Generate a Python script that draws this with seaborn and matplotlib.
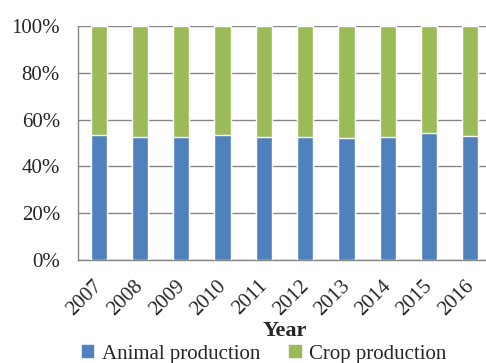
import matplotlib
matplotlib.use("Agg")
import matplotlib.pyplot as plt
import matplotlib.transforms as mtransforms
from matplotlib.patches import Patch
import numpy as np
import pandas as pd
import seaborn as sns

years = ["2007", "2008", "2009", "2010", "2011", "2012", "2013", "2014", "2015", "2016"]
animal = [53.4, 52.6, 52.6, 53.4, 52.6, 52.6, 52.1, 52.6, 54.3, 53.0]
crop = [100 - a for a in animal]

df = pd.DataFrame({"year": years, "animal": animal, "crop": crop})
df["total"] = df["animal"] + df["crop"]

blue = "#4F81BD"
green = "#9BBB59"
grid_c = "#868686"

sns.set_style("white")
plt.rcParams["font.family"] = ["Liberation Serif", "DejaVu Serif"]

fig = plt.figure(figsize=(4.86, 3.63), dpi=100)
ax = fig.add_axes([78 / 486, 103 / 363, 413 / 486, 234 / 363])

sns.barplot(data=df, x="year", y="total", color=green, width=0.39, ax=ax,
            saturation=1, zorder=3)
sns.barplot(data=df, x="year", y="animal", color=blue, width=0.39, ax=ax,
            saturation=1, zorder=4)

ax.set_ylim(0, 100)
ax.set_xlim(-0.5, len(years) - 0.5)
ax.set_yticks(np.arange(0, 101, 20))
ax.set_yticklabels([f"{v}%" for v in range(0, 101, 20)], fontsize=15)
ax.yaxis.grid(True, color=grid_c, linewidth=1.0, zorder=0)
ax.set_axisbelow(True)
ax.tick_params(axis="y", length=8, color=grid_c, width=1.0, pad=5)

# category boundary ticks on x axis
ax.set_xticks(np.arange(len(years)))
ax.set_xticklabels(years, rotation=45, ha="right", rotation_mode="anchor", fontsize=15)
ax.tick_params(axis="x", length=0, pad=6)
ax.set_xticks(np.arange(-0.5, len(years), 1), minor=True)
ax.tick_params(axis="x", which="minor", length=7, color=grid_c, width=1.0)
shift = mtransforms.ScaledTranslation(-6 / 100, -8 / 100, fig.dpi_scale_trans)
for lab in ax.get_xticklabels():
    lab.set_transform(lab.get_transform() + shift)

for s in ["top", "right"]:
    ax.spines[s].set_visible(False)
for s in ["left", "bottom"]:
    ax.spines[s].set_color(grid_c)
    ax.spines[s].set_linewidth(1.0)

ax.set_ylabel("")
ax.set_xlabel("Year", fontsize=16, fontweight="bold", labelpad=1)

handles = [Patch(color=blue, label="Animal production"),
           Patch(color=green, label="Crop production")]
fig.legend(handles=handles, loc="center", bbox_to_anchor=(264 / 486, 1 - 354 / 363),
           ncol=2, frameon=False, fontsize=15, handlelength=0.55, handleheight=0.55,
           handletextpad=0.4, columnspacing=1.4, borderaxespad=0)

fig.savefig("out.png", dpi=100)
